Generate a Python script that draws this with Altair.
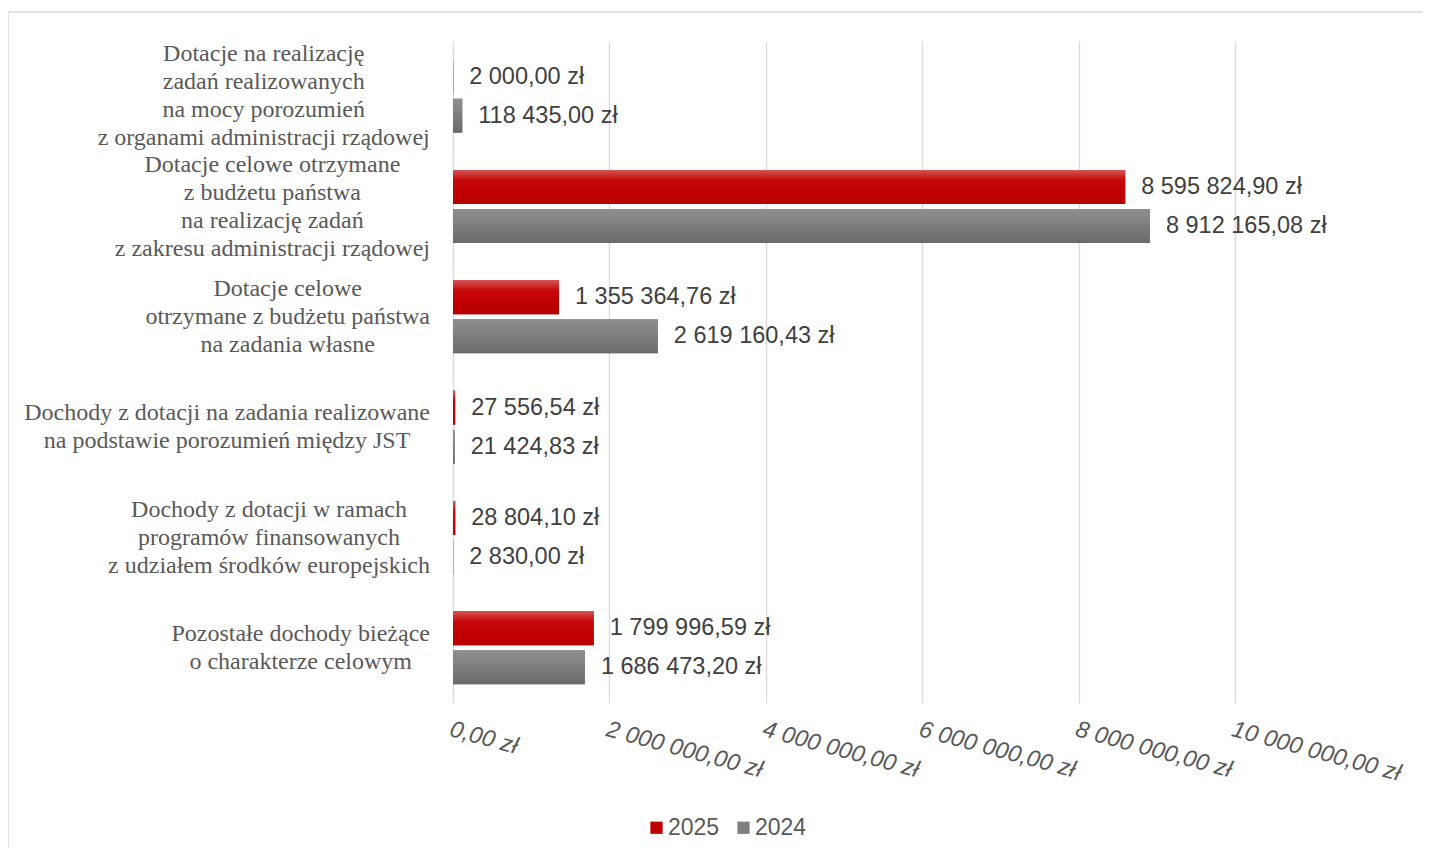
import altair as alt
import pandas as pd

# ---- data ----
labels = [
    "Dotacje na realizację\nzadań realizowanych\nna mocy porozumień\nz organami administracji rządowej",
    "Dotacje celowe otrzymane\nz budżetu państwa\nna realizację zadań\nz zakresu administracji rządowej",
    "Dotacje celowe\notrzymane z budżetu państwa\nna zadania własne",
    "Dochody z dotacji na zadania realizowane\nna podstawie porozumień między JST",
    "Dochody z dotacji w ramach\nprogramów finansowanych\nz udziałem środków europejskich",
    "Pozostałe dochody bieżące\no charakterze celowym",
]
keys = ["c1", "c2", "c3", "c4", "c5", "c6"]
years = ["2025", "2024"]
values_2025 = [2000.00, 8595824.90, 1355364.76, 27556.54, 28804.10, 1799996.59]
values_2024 = [118435.00, 8912165.08, 2619160.43, 21424.83, 2830.00, 1686473.20]
x_ticks = [0, 2000000, 4000000, 6000000, 8000000, 10000000]
colors = ["#c00000", "#7f7f7f"]

rows = []
for k, v25, v24 in zip(keys, values_2025, values_2024):
    rows.append({"cat": k, "year": "2025", "value": v25})
    rows.append({"cat": k, "year": "2024", "value": v24})
df = pd.DataFrame(rows)

# ---- label layout: centre each multi-line block, right edge of block near the axis ----
SERIF_W = {" ": 250, "a": 444, "b": 500, "c": 444, "d": 500, "e": 444, "f": 333, "g": 500,
           "h": 500, "i": 278, "j": 278, "k": 500, "l": 278, "m": 778, "n": 500, "o": 500,
           "p": 500, "q": 500, "r": 333, "s": 389, "t": 278, "u": 500, "v": 500, "w": 722,
           "x": 500, "y": 500, "z": 444, "D": 722, "J": 389, "P": 556, "S": 556, "T": 611,
           "ą": 444, "ę": 444, "ń": 500, "ó": 500, "ś": 389, "ż": 444, "ł": 278}
LABEL_SIZE = 24
LABEL_GAP = 23
LINE_H = 28


def text_w(s, size):
    return sum(SERIF_W.get(ch, 500) for ch in s) / 1000.0 * size


lab_df = pd.DataFrame({
    "cat": keys,
    "label": labels,
    "nlines": [lab.count("\n") + 1 for lab in labels],
    "lx": [-LABEL_GAP - max(text_w(l, LABEL_SIZE) for l in lab.split("\n")) / 2 for lab in labels],
})

W, H = 782, 662

y_enc = alt.Y("cat:N", sort=keys, axis=None,
              scale=alt.Scale(paddingInner=0.338, paddingOuter=0.169))
yoff = alt.YOffset("year:N", sort=years,
                   scale=alt.Scale(paddingInner=0.13, paddingOuter=0))
x_enc = alt.X("value:Q", title=None,
              scale=alt.Scale(domain=[0, 10000000], nice=False),
              axis=alt.Axis(values=x_ticks, format="$,.2f", grid=True, gridColor="#d9d9d9",
                            gridWidth=1.3, domain=False, ticks=False, labelAngle=15,
                            labelAlign="left", labelBaseline="top", labelPadding=14,
                            labelFont="Liberation Sans", labelFontStyle="italic",
                            labelFontSize=23.5, labelColor="#595959", labelOverlap=False,
                            labelFlush=False, labelBound=False))

base = alt.Chart(df)

bars_solid = base.mark_bar().encode(
    x=x_enc, y=y_enc, yOffset=yoff,
    color=alt.Color("year:N", sort=years,
                    scale=alt.Scale(domain=years, range=colors),
                    legend=alt.Legend(title=None, orient="none", legendX=192, legendY=775,
                                      direction="horizontal", symbolType="square",
                                      symbolSize=150, symbolStrokeWidth=0,
                                      labelFont="Liberation Sans", labelFontSize=23,
                                      labelColor="#595959", columnPadding=12,
                                      labelOffset=0)),
)

grad_red = alt.LinearGradient(
    gradient="linear", x1=0, x2=0, y1=0, y2=1,
    stops=[alt.GradientStop(color="#d45656", offset=0),
           alt.GradientStop(color="#c60808", offset=0.3),
           alt.GradientStop(color="#c00000", offset=0.7),
           alt.GradientStop(color="#b50000", offset=1)])
grad_grey = alt.LinearGradient(
    gradient="linear", x1=0, x2=0, y1=0, y2=1,
    stops=[alt.GradientStop(color="#909090", offset=0),
           alt.GradientStop(color="#7f7f7f", offset=0.45),
           alt.GradientStop(color="#6a6a6a", offset=1)])

bars_red = base.transform_filter(alt.datum.year == "2025").mark_bar(fill=grad_red).encode(
    x="value:Q", y=y_enc, yOffset=yoff)
bars_grey = base.transform_filter(alt.datum.year == "2024").mark_bar(fill=grad_grey).encode(
    x="value:Q", y=y_enc, yOffset=yoff)

value_labels = base.mark_text(align="left", baseline="middle", dx=16,
                              font="Liberation Sans", fontSize=23.5, color="#404040").encode(
    x="value:Q", y=y_enc, yOffset=yoff,
    text=alt.Text("value:Q", format="$,.2f"))

# one text layer per line count, so each block is vertically centred on its band
cat_label_layers = []
for n in sorted(set(lab_df["nlines"])):
    cat_label_layers.append(
        alt.Chart(lab_df).transform_filter(alt.datum.nlines == n).mark_text(
            align="center", baseline="middle", lineBreak="\n", lineHeight=LINE_H,
            dy=-(n - 1) * LINE_H / 2,
            font="Liberation Serif", fontSize=LABEL_SIZE, color="#595959").encode(
            x=alt.X("lx:Q", scale=None, axis=None),
            y=y_enc,
            text="label:N")
    )

border = alt.Chart(alt.Data(values=[{"a": 1}])).mark_rect(
    filled=False, stroke="#d9d9d9", strokeWidth=1.5).encode(
    x=alt.value(-445), x2=alt.value(1500), y=alt.value(-29), y2=alt.value(900))

chart = alt.layer(border, bars_solid, bars_red, bars_grey, value_labels,
                  *cat_label_layers).properties(
    width=W, height=H,
    autosize=alt.AutoSizeParams(type="none"),
    padding={"left": 445, "top": 33, "right": 187, "bottom": 145},
).configure(
    locale={"number": {"decimal": ",", "thousands": "\u00a0", "grouping": [3],
                       "currency": ["", " zł"]}}
).configure_view(strokeWidth=0)

chart.save("out.html", embed_options={"renderer": "svg", "actions": False})
